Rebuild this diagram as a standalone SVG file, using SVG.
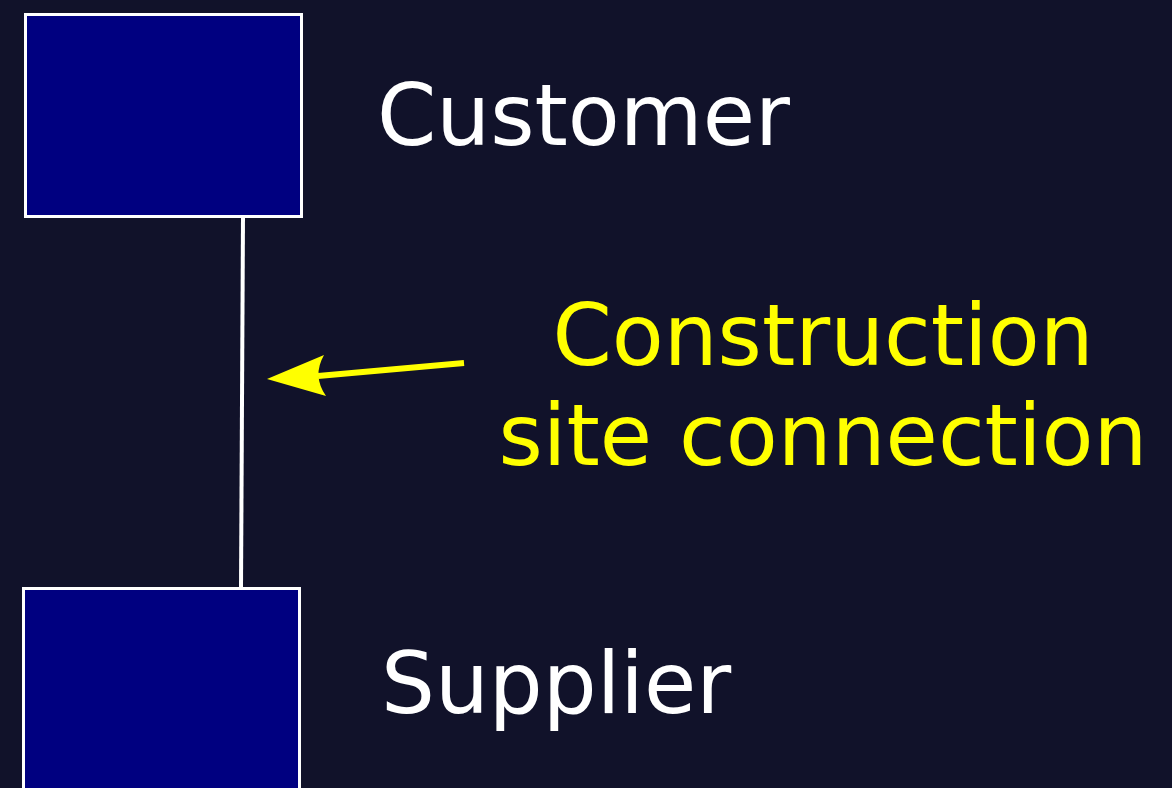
<svg xmlns="http://www.w3.org/2000/svg" width="1172" height="788" viewBox="0 0 1172 788">
<defs>
<style>
.box{fill:#000080;stroke:#ffffff;stroke-width:3}
.lbl{font-family:"DejaVu Sans",sans-serif;font-size:85px}
</style>
</defs>
<rect width="1172" height="788" fill="#11122a"/>
<g id="connectors">
<line x1="243" y1="217" x2="241" y2="588" stroke="#ffffff" stroke-width="4"/>
<line x1="464" y1="363" x2="318" y2="376" stroke="#ffff00" stroke-width="6"/>
<path d="M267,379 L324,355 Q312,376 326,396 Z" fill="#ffff00"/>
</g>
<g id="customer">
<rect class="box" x="25.5" y="14.5" width="276" height="202"/>
<text class="lbl" x="377" y="145" fill="#ffffff">Customer</text>
</g>
<g id="supplier">
<rect class="box" x="23.5" y="588.5" width="276" height="210"/>
<text class="lbl" x="381" y="713" fill="#ffffff">Supplier</text>
</g>
<g id="label">
<text class="lbl" x="823" y="365" fill="#ffff00" text-anchor="middle">Construction</text>
<text class="lbl" x="823" y="465" fill="#ffff00" text-anchor="middle">site connection</text>
</g>
</svg>
